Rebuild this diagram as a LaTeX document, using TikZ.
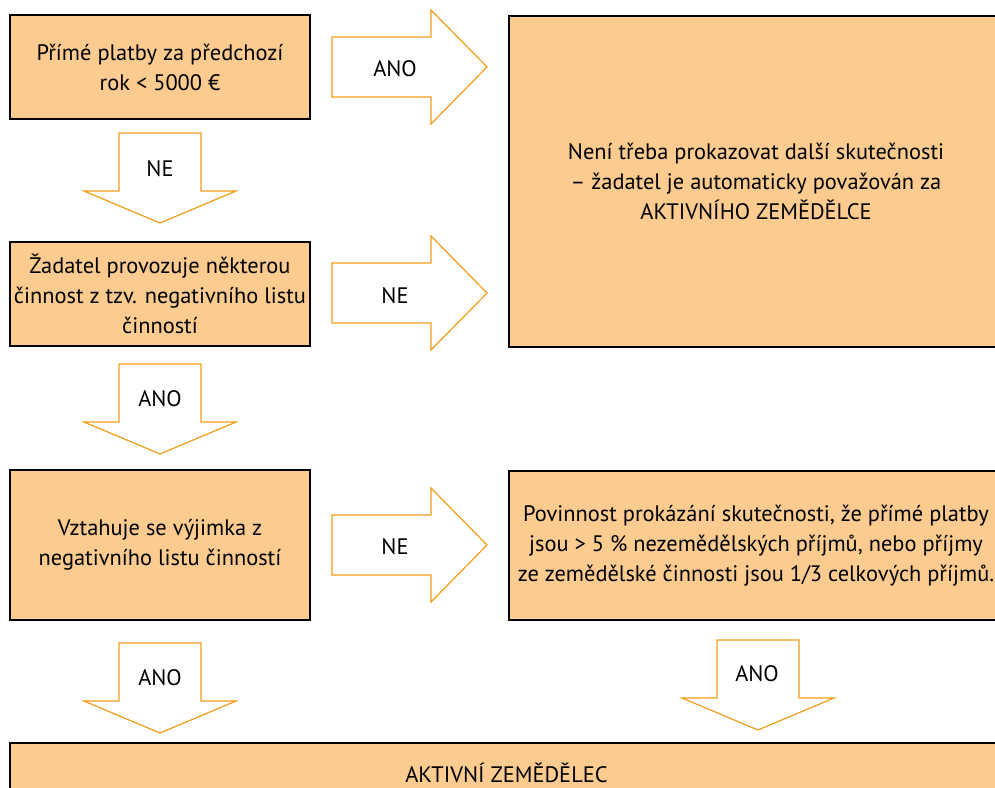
\documentclass[tikz,border=0pt]{standalone}
\usepackage{fontspec}
\setmainfont{PT Sans}
\usepackage{tikz}

\definecolor{boxfill}{RGB}{251,203,143}
\definecolor{arrline}{RGB}{243,156,24}

\tikzset{
  box/.style={draw=black, line width=1pt, fill=boxfill, align=center,
    inner sep=0pt, font=\fontsize{11.2}{15}\selectfont},
  blockarr/.style={draw=arrline, line width=0.6pt, fill=white, line join=miter},
  arrlabel/.style={inner sep=0pt, font=\fontsize{11.2}{15}\selectfont},
}

%% block arrows (origin = middle of the shaft's back end)
\newcommand{\arrright}[1]{%
  \draw[blockarr, shift={#1}] (0,-30) -- (99,-30) -- (99,-57) -- (155,0)
    -- (99,57) -- (99,30) -- (0,30) -- cycle;}
\newcommand{\arrdown}[1]{%
  \draw[blockarr, shift={#1}] (-41,0) -- (41,0) -- (41,58) -- (76,58)
    -- (0,90) -- (-76,58) -- (-41,58) -- cycle;}

\begin{document}
\begin{tikzpicture}[x=0.5pt, y=-0.5pt]
    \useasboundingbox (0,0) rectangle (995,787);

    %% Left column
    \node[box, minimum width=150pt, minimum height=52pt] (prime) at (160,67)
      {Přímé platby za předchozí\\rok < 5000 €};
    \node[box, minimum width=150pt, minimum height=52pt] (zadatel) at (160,294)
      {Žadatel provozuje některou\\činnost z tzv. negativního listu\\činností};
    \node[box, minimum width=150pt, minimum height=75pt] (vyjimka) at (160,545)
      {Vztahuje se výjimka z\\negativního listu činností};

    %% Right column
    \node[box, minimum width=247pt, minimum height=165.5pt] (neni) at (756,181.5)
      {Není třeba prokazovat další skutečnosti\\– žadatel je automaticky považován za\\AKTIVNÍHO ZEMĚDĚLCE};
    \node[box, minimum width=247pt, minimum height=74.5pt] (povinnost) at (756,545.5)
      {Povinnost prokázání skutečnosti, že přímé platby\\jsou > 5 \% nezemědělských příjmů, nebo příjmy\\ze zemědělské činnosti jsou 1/3 celkových příjmů.};

    %% Result
    \node[box, minimum width=496.5pt, minimum height=30pt] (aktivni) at (506.5,773)
      {AKTIVNÍ ZEMĚDĚLEC};

    %% Arrows
    \arrright{(332,67)}
    \arrright{(332,293)}
    \arrright{(332,545)}
    \arrdown{(160,133)}
    \arrdown{(160,364)}
    \arrdown{(160,643)}
    \arrdown{(758,640)}

    \node[arrlabel] (ano1) at (395,69) {ANO};
    \node[arrlabel] (ne1) at (160,169) {NE};
    \node[arrlabel] (ne2) at (395,296) {NE};
    \node[arrlabel] (ano2) at (160,399) {ANO};
    \node[arrlabel] (ne3) at (395,547) {NE};
    \node[arrlabel] (ano3) at (160,678) {ANO};
    \node[arrlabel] (ano4) at (757,674) {ANO};

\end{tikzpicture}
\end{document}
